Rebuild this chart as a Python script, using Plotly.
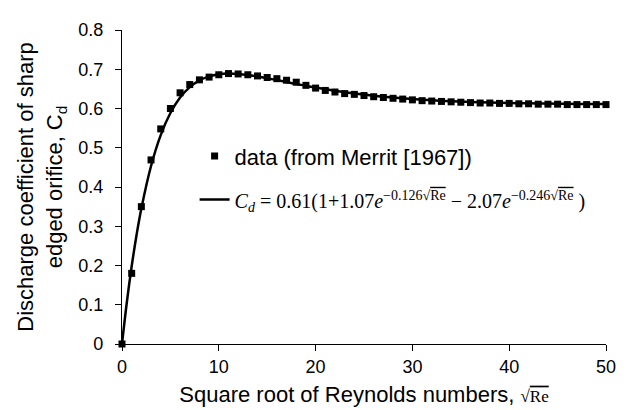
import plotly.graph_objects as go

# Measured data points (sqrt(Re), Cd)
data_x = list(range(0, 51))
data_cd = [0.0, 0.18, 0.35, 0.469, 0.548, 0.60, 0.64, 0.661, 0.673, 0.68,
           0.686, 0.689, 0.688, 0.686, 0.683, 0.679, 0.676, 0.672, 0.667, 0.659,
           0.652, 0.646, 0.642, 0.638, 0.636, 0.633, 0.630, 0.628, 0.626, 0.624,
           0.622, 0.620, 0.619, 0.618, 0.617, 0.616, 0.615, 0.614, 0.614, 0.613,
           0.613, 0.612, 0.612, 0.611, 0.611, 0.611, 0.610, 0.610, 0.610, 0.610,
           0.610]

# Fitted curve samples (sqrt(Re), Cd)
fit_x = [0, 0.5, 1, 1.5, 2, 3, 4, 5, 6, 7, 8, 9, 10, 11, 12, 13, 14, 15, 16,
         17, 18, 19, 20, 22, 24, 26, 28, 30, 32, 34, 36, 38, 40, 42, 44, 46, 48, 50]
fit_cd = [0.0, 0.1063, 0.1981, 0.2772, 0.3453, 0.4536, 0.5323, 0.5885, 0.6279,
          0.6545, 0.6718, 0.6820, 0.6873, 0.6889, 0.6879, 0.6853, 0.6815, 0.6771,
          0.6723, 0.6674, 0.6625, 0.6578, 0.6533, 0.6452, 0.6383, 0.6326, 0.6279,
          0.6241, 0.6211, 0.6187, 0.6168, 0.6153, 0.6142, 0.6132, 0.6125, 0.6120,
          0.6115, 0.6112]

x_ticks = [0, 10, 20, 30, 40, 50]
y_ticks = [0, 0.1, 0.2, 0.3, 0.4, 0.5, 0.6, 0.7, 0.8]
y_ticklabels = ["0", "0.1", "0.2", "0.3", "0.4", "0.5", "0.6", "0.7", "0.8"]

SERIF = "Liberation Serif"
SANS = "Liberation Sans"
sqrt_re = "√<span style='text-decoration:overline'>Re</span>"
formula = (f"<span style='font-family:{SERIF};font-size:20px'><i>C<sub>d</sub></i> = 0.61(1+1.07<i>e</i>"
           f"<sup>−0.126{sqrt_re}</sup> − 2.07<i>e</i><sup>−0.246{sqrt_re}</sup> )</span>")

fig = go.Figure()
fig.add_trace(go.Scatter(
    x=data_x, y=data_cd, mode="markers", name="data (from Merrit [1967])",
    marker=dict(symbol="square", size=7, color="black"), cliponaxis=False,
    legendgroup="a"))
fig.add_trace(go.Scatter(
    x=fit_x, y=fit_cd, mode="lines", name=formula, line_shape="spline",
    line=dict(color="black", width=2.5), cliponaxis=False, legendgroup="b"))

fig.update_layout(
    width=635, height=410,
    margin=dict(l=114, r=37, t=16, b=74),
    paper_bgcolor="white", plot_bgcolor="white",
    font=dict(family=SANS, size=18, color="black"),
    showlegend=True,
    legend=dict(x=0.15, y=0.665, xanchor="left", yanchor="top",
                bgcolor="rgba(0,0,0,0)", font=dict(size=22, family=SANS),
                traceorder="grouped", tracegroupgap=12),
    xaxis=dict(range=[0, 50], tickvals=x_ticks, showgrid=False, zeroline=False,
               showline=True, linecolor="black", linewidth=1.3,
               ticks="outside", ticklen=6, tickwidth=1.3, tickcolor="black",
               tickfont=dict(size=18),
               title=dict(text=f"Square root of Reynolds numbers, <span style='font-family:{SERIF};font-size:17px'>{sqrt_re}</span>",
                          font=dict(size=22), standoff=10)),
    yaxis=dict(range=[0, 0.8], tickvals=y_ticks, ticktext=y_ticklabels,
               showgrid=False, zeroline=False,
               showline=True, linecolor="black", linewidth=1.3,
               ticks="outside", ticklen=6, tickwidth=1.3, tickcolor="black",
               tickfont=dict(size=18), ticklabelstandoff=8,
               title=dict(text="Discharge coefficient of sharp<br>edged orifice, C<sub>d</sub>",
                          font=dict(size=22), standoff=9)),
)

fig.write_html("out.html")
